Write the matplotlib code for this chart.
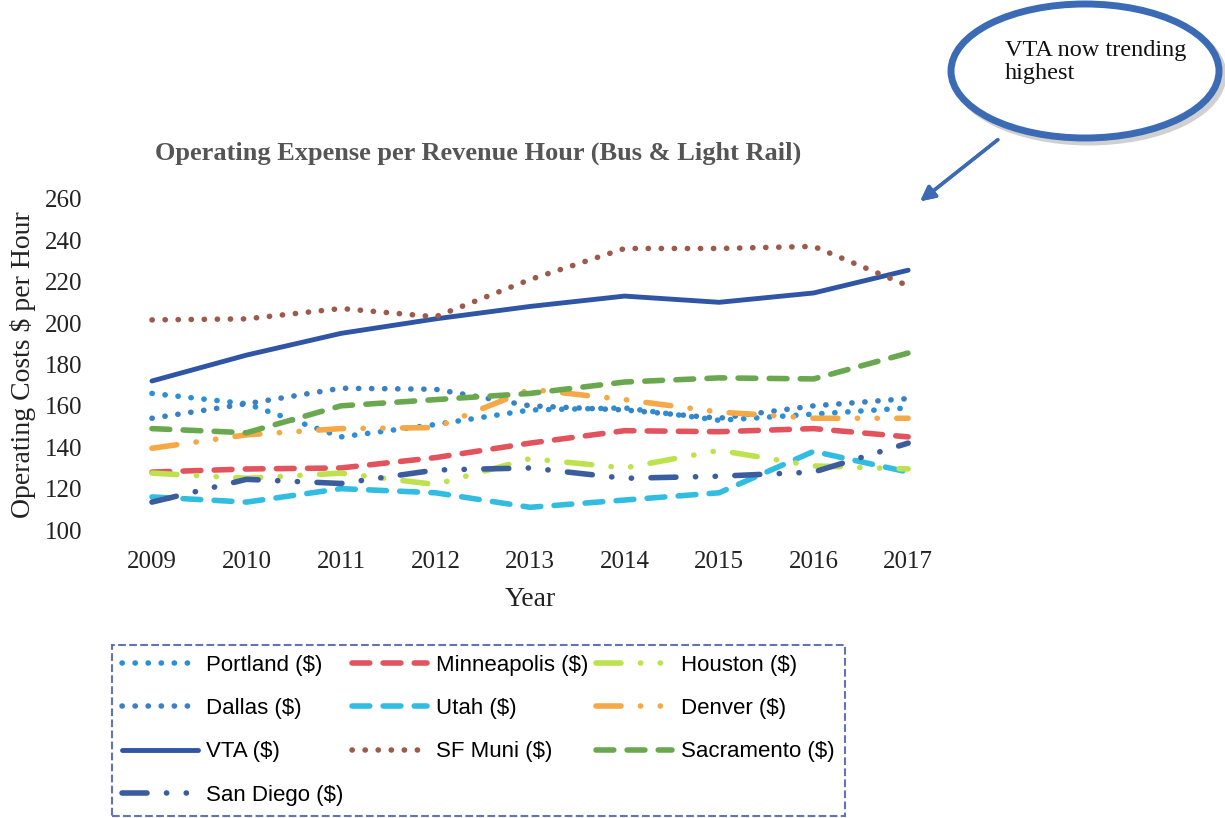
import numpy as np
import matplotlib.pyplot as plt
from matplotlib.patches import Ellipse

years = [2009, 2010, 2011, 2012, 2013, 2014, 2015, 2016, 2017]

portland = [166, 161, 145, 151, 158, 159, 153, 156, 159]
dallas = [154, 161, 168.5, 168, 160, 158, 154, 160, 163.5]
vta = [172, 184.5, 195, 202, 208, 213, 210, 214.5, 225.5]
minneapolis = [128, 129.5, 130, 135, 142, 148, 147.5, 149, 145]
utah = [116, 113.5, 120, 118, 111, 114.5, 118, 138, 128]
sf_muni = [201.5, 202, 207, 203, 221, 236, 236, 237, 218]
houston = [127.5, 125, 127.5, 122, 134.5, 130, 138.5, 131, 129.5]
denver = [139.5, 146, 149, 149.5, 168, 163, 157, 154, 154]
sacramento = [149, 147, 160, 163, 166, 171.5, 173.5, 173, 185.5]
san_diego = [113.5, 124.5, 122.5, 129, 130, 125, 126, 128, 142]

plt.rcParams['font.family'] = ['Liberation Serif', 'DejaVu Serif']

fig = plt.figure(figsize=(12.25, 8.18), dpi=100)
ax = fig.add_axes([0.0932, 0.352, 0.679, 0.405])

dot = (0, (0.05, 2.3))
dash = (0, (3.2, 2.4))
dashdotdot = (0, (4.5, 3.5, 0.05, 3.5, 0.05, 3.5))

kw = dict(lw=4, solid_capstyle='round', dash_capstyle='round')
h = {}
h['Portland ($)'], = ax.plot(years, portland, color='#2a8fd6', ls=dot, **kw)
h['Dallas ($)'], = ax.plot(years, dallas, color='#3b80c4', ls=dot, **kw)
h['VTA ($)'], = ax.plot(years, vta, color='#2f55a4', ls='-', lw=3.5, solid_capstyle='round')
h['Minneapolis ($)'], = ax.plot(years, minneapolis, color='#e2535e', ls=dash, **kw)
h['Utah ($)'], = ax.plot(years, utah, color='#31bde2', ls=dash, **kw)
h['SF Muni ($)'], = ax.plot(years, sf_muni, color='#9c5a4c', ls=dot, **kw)
h['Houston ($)'], = ax.plot(years, houston, color='#bde24e', ls=dashdotdot, **kw)
h['Denver ($)'], = ax.plot(years, denver, color='#f5a846', ls=dashdotdot, **kw)
h['Sacramento ($)'], = ax.plot(years, sacramento, color='#6aa84f', ls=dash, **kw)
h['San Diego ($)'], = ax.plot(years, san_diego, color='#3b5d9e', ls=dashdotdot, **kw)

ax.set_xlim(2008.6, 2017.4)
ax.set_ylim(100, 260)
ax.set_yticks(range(100, 261, 20))
ax.set_xticks(years)
for s in ax.spines.values():
    s.set_visible(False)
ax.tick_params(length=0, labelsize=18, colors='#222222')
ax.tick_params(axis='y', pad=23)
ax.tick_params(axis='x', pad=15)
ax.set_xlabel('Year', fontsize=20, color='#222222', labelpad=10)
ax.set_ylabel('Operating Costs $ per Hour', fontsize=20, color='#222222', labelpad=6)

fig.text(0.39, 0.813, 'Operating Expense per Revenue Hour (Bus & Light Rail)',
         ha='center', va='center', fontsize=19, fontweight='bold', color='#555555')

# legend, filled column-wise by matplotlib
order = ['Portland ($)', 'Dallas ($)', 'VTA ($)', 'San Diego ($)',
         'Minneapolis ($)', 'Utah ($)', 'SF Muni ($)',
         'Houston ($)', 'Denver ($)', 'Sacramento ($)']
leg = fig.legend([h[k] for k in order], order, ncol=3, loc='upper left',
                 bbox_to_anchor=(0.0914, 0.003, 0.598, 0.2085), mode='expand',
                 handlelength=3.4, labelspacing=1.0, borderpad=0.45,
                 handletextpad=0.4, columnspacing=0.6, borderaxespad=0.0,
                 fancybox=False, prop={'family': ['Liberation Sans', 'DejaVu Sans'], 'size': 16})
fr = leg.get_frame()
fr.set_linestyle('--')
fr.set_edgecolor('#4050a0')
fr.set_linewidth(1.5)

# callout bubble with a soft shadow
shadow = Ellipse((1089 / 1225, 1 - 75 / 818), 268 / 1225, 134 / 818,
                 transform=fig.transFigure, facecolor='none',
                 edgecolor='#d0d0d0', lw=5)
fig.add_artist(shadow)
ell = Ellipse((1085 / 1225, 1 - 71 / 818), 268 / 1225, 134 / 818,
              transform=fig.transFigure, facecolor='white',
              edgecolor='#3c6bb5', lw=5)
fig.add_artist(ell)
fig.text(1005 / 1225, 1 - 62 / 818, 'VTA now trending\nhighest', ha='left',
         va='center', fontsize=17.5, color='#111111', linespacing=1.1)
fig.add_artist(plt.annotate('', xy=(918 / 1225, 1 - 203 / 818),
                            xytext=(1000 / 1225, 1 - 138 / 818),
                            xycoords='figure fraction', textcoords='figure fraction',
                            arrowprops=dict(arrowstyle='-|>', color='#3c6bb5', lw=2.5,
                                            mutation_scale=22)))

fig.savefig('out.png', dpi=100)
